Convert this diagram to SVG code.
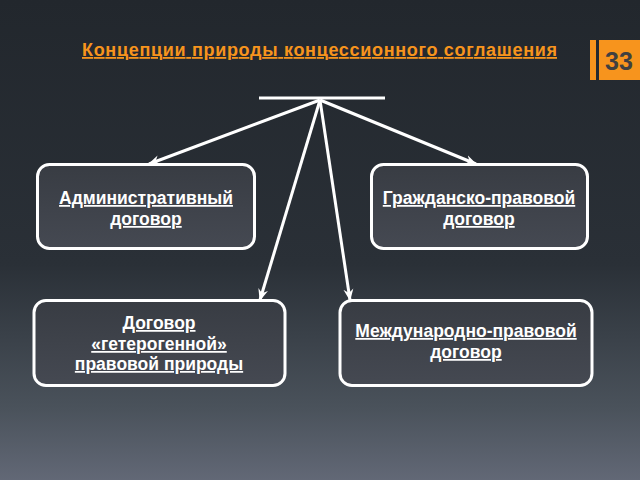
<svg xmlns="http://www.w3.org/2000/svg" width="640" height="480" viewBox="0 0 640 480">
<defs>
<linearGradient id="bg" x1="0" y1="0" x2="0" y2="1">
<stop offset="0" stop-color="#22272d"/>
<stop offset="0.55" stop-color="#2a3037"/>
<stop offset="0.85" stop-color="#4a525b"/>
<stop offset="1" stop-color="#626876"/>
</linearGradient>
<linearGradient id="box" x1="0" y1="0" x2="0" y2="1">
<stop offset="0" stop-color="#383c43"/>
<stop offset="1" stop-color="#454952"/>
</linearGradient>
<marker id="ah" viewBox="0 0 12 12" refX="11" refY="6" markerWidth="12" markerHeight="12" orient="auto" markerUnits="userSpaceOnUse">
<path d="M0,1 L12,6 L0,11 L4,6 Z" fill="#ffffff"/>
</marker>
<style>
.node rect{fill:url(#box);stroke:#ffffff;stroke-width:3}
.node text{font-family:"Liberation Sans",Arial,sans-serif;font-weight:bold;font-size:17.5px;fill:#ffffff;text-anchor:middle;text-decoration:underline}
.conn line{stroke:#ffffff;stroke-width:3}
.title{font-family:"Liberation Sans",Arial,sans-serif;font-weight:bold;font-size:18px;fill:#f7941d;text-decoration:underline}
</style>
</defs>
<rect x="0" y="0" width="640" height="480" fill="url(#bg)"/>
<text class="title" x="82" y="56" textLength="475" lengthAdjust="spacing">Концепции природы концессионного соглашения</text>
<g id="badge">
<rect x="590" y="40" width="6" height="40" fill="#f7941d"/>
<rect x="599" y="40" width="41" height="40" fill="#f7941d"/>
<text x="619" y="70" font-family="Liberation Sans,Arial,sans-serif" font-weight="bold" font-size="25" fill="#404040" text-anchor="middle">33</text>
</g>
<g id="connectors" class="conn">
<line x1="259" y1="98" x2="385" y2="98"/>
<line x1="320" y1="100" x2="149" y2="164" marker-end="url(#ah)"/>
<line x1="320" y1="100" x2="476" y2="164" marker-end="url(#ah)"/>
<line x1="320" y1="100" x2="260" y2="300" marker-end="url(#ah)"/>
<line x1="320" y1="100" x2="350" y2="300" marker-end="url(#ah)"/>
</g>
<g id="node-admin" class="node">
<rect x="37.5" y="164.5" width="217" height="84" rx="12"/>
<text x="146" y="204">Административный</text>
<text x="146" y="225">договор</text>
</g>
<g id="node-civil" class="node">
<rect x="371.5" y="164.5" width="216" height="84" rx="12"/>
<text x="479" y="204">Гражданско-правовой</text>
<text x="479" y="225">договор</text>
</g>
<g id="node-hetero" class="node">
<rect x="34" y="300.5" width="251" height="85" rx="12"/>
<text x="159" y="329">Договор</text>
<text x="159" y="350">«гетерогенной»</text>
<text x="159" y="370">правовой природы</text>
</g>
<g id="node-intl" class="node">
<rect x="340" y="300.5" width="252" height="85" rx="12"/>
<text x="466" y="337">Международно-правовой</text>
<text x="466" y="358">договор</text>
</g>
</svg>
